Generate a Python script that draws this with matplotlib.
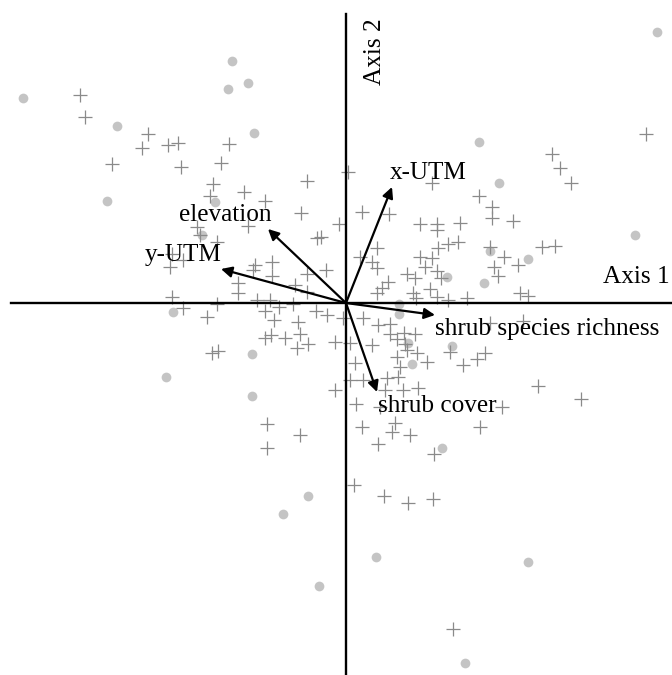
"""
Ordination biplot: site scores with environmental vectors.
"""
import matplotlib
matplotlib.use("Agg")
import matplotlib.pyplot as plt

# site scores, group A (plus markers)
plus_x = [-2.66, -2.61, -1.98, -2.04, -1.78, -1.68, -2.34, -1.65, -1.17, -1.25,
          -0.39, -1.33, -1.02, -0.81, -1.36, -0.45, -0.07, -0.98, -1.49, -1.46,
          -1.29, -0.29, -0.25, -1.74, -1.63, -1.76, -0.91, -0.74, -0.93, -0.74,
          -1.08, -1.08, -0.20, -0.39, -0.51, -0.39, -1.74, -1.63, -1.39, -1.29,
          -0.89, -0.76, -0.81, -0.67, -0.53, -0.30, -0.19, -0.72, -0.48, -0.03,
          -0.81, -0.75, -0.61, -0.46, -0.49, -0.38, -0.11, -1.34, -1.28, -0.11,
          -0.79, -0.46, -0.79,
          0.02, 0.86, 1.33, 1.46, 1.46, 1.67, 0.16, 0.43, 0.74, 0.91,
          0.91, 1.14, 0.31, 0.92, 1.02, 1.12, 1.44, 1.58, 1.96, 2.09,
          0.14, 0.26, 0.31, 0.74, 0.86, 0.79, 0.91, 0.61, 0.69, 0.95,
          0.42, 0.36, 0.31, 0.67, 0.70, 0.84, 0.91, 1.02, 1.21, 1.48,
          1.52, 1.72, 1.74, 1.82, 3.00, 2.06, 2.14, 2.25,
          0.17, 0.32, 0.44, 1.44, 1.77, 0.04, 0.26, 0.44, 0.51, 0.58,
          0.69, 0.59, 0.61, 0.71, 0.51, 0.81, 1.04, 1.17, 1.31, 1.39,
          0.09, 0.54, 0.52, 0.41, 0.04, 0.17, 0.39, 0.57, 0.72, 1.92,
          2.35, 0.10, 0.34, 1.56, 0.16, 0.49, 0.46, 0.64, 1.34, 0.32,
          0.88, 0.08, 0.38, 0.62, 0.87, 1.07]
plus_y = [2.08, 1.86, 1.69, 1.55, 1.58, 1.60, 1.39, 1.36, 1.59, 1.40,
          1.22, 1.19, 1.11, 1.02, 1.07, 0.90, 0.79, 0.77, 0.76, 0.68,
          0.61, 0.65, 0.66, 0.49, 0.43, 0.36, 0.38, 0.41, 0.33, 0.27,
          0.20, 0.10, 0.33, 0.29, 0.18, 0.11, 0.06, -0.05, -0.14, -0.01,
          0.03, 0.03, -0.08, -0.04, -0.01, -0.08, -0.12, -0.17, -0.19, -0.15,
          -0.35, -0.32, -0.35, -0.31, -0.45, -0.41, -0.39, -0.50, -0.48, -0.87,
          -1.21, -1.32, -1.45,
          1.31, 1.20, 1.07, 0.96, 0.85, 0.82, 0.91, 0.89, 0.79, 0.79,
          0.73, 0.80, 0.55, 0.55, 0.59, 0.61, 0.56, 0.46, 0.56, 0.57,
          0.46, 0.41, 0.35, 0.46, 0.45, 0.36, 0.32, 0.29, 0.25, 0.25,
          0.21, 0.15, 0.10, 0.10, 0.05, 0.14, 0.06, 0.03, 0.05, 0.36,
          0.27, 0.38, 0.10, 0.07, 1.69, 1.49, 1.35, 1.20,
          -0.15, -0.22, -0.21, -0.20, -0.18, -0.40, -0.42, -0.31, -0.36, -0.30,
          -0.31, -0.41, -0.47, -0.50, -0.54, -0.59, -0.49, -0.62, -0.56, -0.50,
          -0.60, -0.64, -0.74, -0.75, -0.77, -0.77, -0.87, -0.87, -0.85, -0.83,
          -0.96, -1.01, -1.04, -1.04, -1.24, -1.20, -1.29, -1.32, -1.24, -1.41,
          -1.51, -1.82, -1.93, -2.00, -1.96, -3.26]

# site scores, group B (filled circles)
dot_x = [-3.23, -1.14, -1.18, -0.98, -2.29, -0.92, -2.39, -1.31, -1.44, -1.73,
         -1.80, -0.94, -0.94, -0.38, -0.63, -0.27, 3.11, 1.33, 1.53, 2.89,
         1.44, 1.82, 1.01, 1.38, 0.53, 0.53, 0.62, 1.06, 0.66, 0.96,
         0.30, 1.82, 1.19]
dot_y = [2.05, 2.42, 2.14, 2.20, 1.77, 1.70, 1.02, 1.01, 0.68, -0.09,
         -0.74, -0.51, -0.93, -1.93, -2.11, -2.83, 2.71, 1.61, 1.20, 0.68,
         0.52, 0.44, 0.26, 0.20, -0.01, -0.11, -0.40, -0.43, -0.61, -1.45,
         -2.54, -2.59, -3.60]

# environmental vectors
env_names = ["x-UTM", "elevation", "y-UTM", "shrub species richness", "shrub cover"]
env_x = [0.46, -0.78, -1.25, 0.89, 0.31]
env_y = [1.16, 0.74, 0.34, -0.12, -0.89]
# where each label sits, and its horizontal alignment
label_pos = [(0.82, 1.30), (-1.21, 0.88), (-1.63, 0.48), (0.89, -0.26), (0.32, -1.03)]
label_ha = ["center", "center", "center", "left", "left"]

plt.rcParams["font.family"] = ["Liberation Serif", "DejaVu Serif"]

fig = plt.figure(figsize=(6.72, 6.75), dpi=100)
ax = fig.add_axes([0, 0, 1, 1])
ax.set_xlim(-3.46, 3.26)
ax.set_ylim(-3.72, 3.03)
ax.axis("off")

ax.plot(dot_x, dot_y, "o", color="#c4c4c4", markersize=7, markeredgewidth=0, zorder=1)
ax.plot(plus_x, plus_y, "+", color="#8a8a8a", markersize=10, markeredgewidth=0.9, zorder=2)

# ordination axes
ax.plot([-3.35, 3.26], [0, 0], color="black", lw=1.7, zorder=3)
ax.plot([0, 0], [-3.72, 2.89], color="black", lw=1.7, zorder=3)
ax.text(3.24, 0.26, "Axis 1", fontsize=18.2, ha="right", va="center")
ax.text(0.29, 2.51, "Axis 2", fontsize=18.2, ha="center", va="center", rotation=90)

for name, x, y, pos, ha in zip(env_names, env_x, env_y, label_pos, label_ha):
    ax.annotate("", xy=(x, y), xytext=(0, 0),
                arrowprops=dict(arrowstyle="-|>", color="black", lw=1.6,
                                mutation_scale=16, shrinkA=0, shrinkB=0),
                zorder=4)
    ax.text(pos[0], pos[1], name, fontsize=18.2, ha=ha, va="center", zorder=5)

plt.savefig("out.png", dpi=100)
